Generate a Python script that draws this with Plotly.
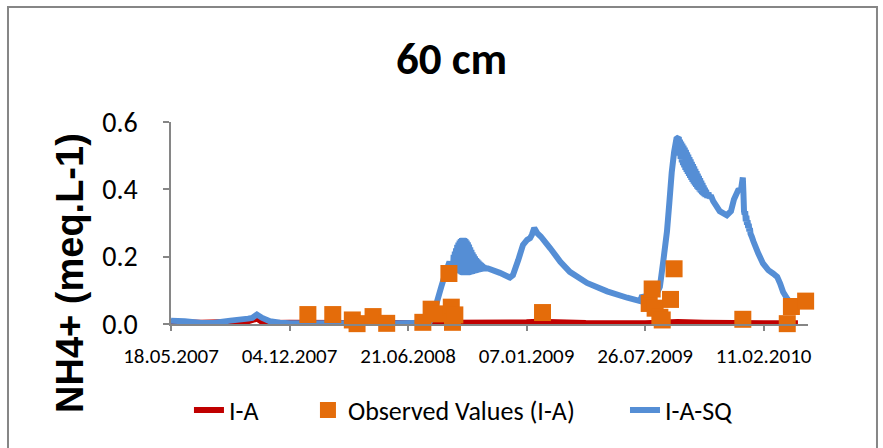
import plotly.graph_objects as go

# ---------------- data ----------------
# I-A simulation (red)
ia_dates = ["2007-05-18", "2007-07-07", "2007-08-26", "2007-09-25", "2007-10-10",
            "2007-10-17", "2007-11-04", "2007-12-04", "2008-03-13", "2008-06-21",
            "2008-08-30", "2009-01-07", "2009-01-27", "2009-04-17", "2009-07-26",
            "2009-09-19", "2009-11-03", "2010-02-11", "2010-04-10"]
ia_values = [0.006, 0.004, 0.006, 0.008, 0.016, 0.008, 0.003, 0.004, 0.003, 0.003,
             0.004, 0.005, 0.007, 0.003, 0.002, 0.006, 0.004, 0.002, 0.002]

# Observed values (I-A)
obs_dates = ["2008-01-04", "2008-02-15", "2008-03-19", "2008-03-27", "2008-04-23",
             "2008-05-16", "2008-07-16", "2008-07-30", "2008-08-08", "2008-08-29",
             "2008-09-02", "2008-09-04", "2008-09-08", "2009-02-03", "2009-08-02",
             "2009-08-07", "2009-08-12", "2009-08-20", "2009-08-24", "2009-09-07",
             "2009-09-13", "2010-01-07", "2010-03-23", "2010-03-30", "2010-04-23"]
obs_values = [0.028, 0.028, 0.012, 0.001, 0.022, 0.002, 0.005, 0.044, 0.030, 0.150,
              0.050, 0.005, 0.027, 0.034, 0.061, 0.104, 0.047, 0.020, 0.012, 0.073,
              0.164, 0.014, 0.001, 0.052, 0.068]

# I-A-SQ simulation (blue), daily fluctuations included
sq_dates = [
    "2007-05-18", "2007-06-10", "2007-07-09", "2007-07-31", "2007-08-26",
    "2007-09-25", "2007-10-02", "2007-10-10", "2007-10-19", "2007-11-01",
    "2007-11-18", "2007-12-05", "2008-03-01", "2008-06-01", "2008-07-27",
    "2008-08-03", "2008-08-16", "2008-08-23", "2008-08-30", "2008-09-02",
    "2008-09-05", "2008-09-06", "2008-09-07", "2008-09-08", "2008-09-09",
    "2008-09-10", "2008-09-11", "2008-09-12", "2008-09-13", "2008-09-14",
    "2008-09-15", "2008-09-16", "2008-09-17", "2008-09-18", "2008-09-19",
    "2008-09-20", "2008-09-21", "2008-09-22", "2008-09-23", "2008-09-24",
    "2008-09-25", "2008-09-26", "2008-09-27", "2008-09-28", "2008-09-29",
    "2008-09-30", "2008-10-01", "2008-10-02", "2008-10-03", "2008-10-04",
    "2008-10-05", "2008-10-06", "2008-10-07", "2008-10-08", "2008-10-09",
    "2008-10-10", "2008-10-11", "2008-10-12", "2008-10-13", "2008-10-14",
    "2008-10-15", "2008-10-16", "2008-10-17", "2008-10-18", "2008-10-19",
    "2008-10-20", "2008-10-21", "2008-10-22", "2008-10-23", "2008-10-24",
    "2008-10-25", "2008-10-26", "2008-10-27", "2008-10-28", "2008-10-29",
    "2008-11-03", "2008-11-23", "2008-12-10",
    "2008-12-15", "2008-12-24", "2009-01-01", "2009-01-08", "2009-01-13",
    "2009-01-16", "2009-01-20", "2009-01-25", "2009-01-31", "2009-02-16",
    "2009-03-05", "2009-03-21", "2009-04-19", "2009-05-23", "2009-06-26",
    "2009-07-18", "2009-07-21", "2009-07-26", "2009-08-03", "2009-08-15",
    "2009-08-20", "2009-08-26", "2009-09-01", "2009-09-05", "2009-09-09",
    "2009-09-13", "2009-09-17", "2009-09-21",
    "2009-09-22", "2009-09-23", "2009-09-24", "2009-09-25", "2009-09-26",
    "2009-09-27", "2009-09-28", "2009-09-29", "2009-09-30", "2009-10-01",
    "2009-10-02", "2009-10-03", "2009-10-04", "2009-10-05", "2009-10-06",
    "2009-10-07", "2009-10-08", "2009-10-09", "2009-10-10", "2009-10-11",
    "2009-10-12", "2009-10-13", "2009-10-14", "2009-10-15", "2009-10-16",
    "2009-10-17", "2009-10-18", "2009-10-19", "2009-10-20", "2009-10-21",
    "2009-10-22", "2009-10-23", "2009-10-24", "2009-10-25", "2009-10-26",
    "2009-10-27", "2009-10-28", "2009-10-29", "2009-10-30", "2009-10-31",
    "2009-11-01", "2009-11-02", "2009-11-03", "2009-11-04", "2009-11-05",
    "2009-11-06", "2009-11-08", "2009-11-10", "2009-11-12", "2009-11-14",
    "2009-11-18",
    "2009-11-29", "2009-12-11", "2009-12-18", "2009-12-23", "2009-12-30",
    "2010-01-04", "2010-01-07", "2010-01-08", "2010-01-09", "2010-01-10",
    "2010-01-11", "2010-01-12", "2010-01-13", "2010-01-14", "2010-01-15",
    "2010-01-16", "2010-01-17", "2010-01-18", "2010-01-19", "2010-01-20",
    "2010-01-22", "2010-01-25", "2010-02-02", "2010-02-10", "2010-02-19",
    "2010-02-27", "2010-03-06", "2010-03-11", "2010-03-16", "2010-03-23",
    "2010-03-29"]
sq_values = [
    0.010, 0.008, 0.003, 0.004, 0.010,
    0.016, 0.018, 0.028, 0.018, 0.008,
    0.004, 0.002, 0.002, 0.002, 0.004,
    0.030, 0.110, 0.150, 0.185, 0.165,
    0.165, 0.205, 0.160, 0.215, 0.158,
    0.225, 0.156, 0.235, 0.154, 0.242,
    0.152, 0.248, 0.150, 0.252, 0.148,
    0.255, 0.146, 0.256, 0.145, 0.255,
    0.145, 0.252, 0.145, 0.248, 0.145,
    0.243, 0.146, 0.236, 0.147, 0.228,
    0.148, 0.220, 0.149, 0.213, 0.150,
    0.207, 0.151, 0.201, 0.152, 0.196,
    0.153, 0.192, 0.154, 0.188, 0.155,
    0.184, 0.156, 0.181, 0.157, 0.178,
    0.158, 0.175, 0.160, 0.172, 0.165,
    0.165, 0.152, 0.138,
    0.145, 0.190, 0.235, 0.250, 0.255,
    0.265, 0.285, 0.270, 0.260, 0.225,
    0.185, 0.155, 0.122, 0.097, 0.078,
    0.068, 0.085, 0.075, 0.080, 0.092,
    0.110, 0.190, 0.275, 0.360, 0.450,
    0.510, 0.550, 0.555,
    0.500, 0.548, 0.490, 0.542, 0.480,
    0.536, 0.472, 0.530, 0.465, 0.524,
    0.458, 0.517, 0.452, 0.510, 0.446,
    0.503, 0.440, 0.496, 0.434, 0.489,
    0.428, 0.482, 0.422, 0.475, 0.417,
    0.468, 0.412, 0.461, 0.407, 0.454,
    0.402, 0.447, 0.398, 0.440, 0.394,
    0.433, 0.390, 0.426, 0.386, 0.419,
    0.383, 0.412, 0.380, 0.405, 0.377,
    0.398, 0.375, 0.390, 0.373, 0.382,
    0.365,
    0.335, 0.323, 0.335, 0.370, 0.397,
    0.400, 0.435, 0.390, 0.335, 0.325,
    0.335, 0.305, 0.322, 0.295, 0.308,
    0.285, 0.298, 0.275, 0.285, 0.268,
    0.260, 0.245, 0.210, 0.180, 0.160,
    0.150, 0.140, 0.120, 0.095, 0.075,
    0.060]

x_range = ["2007-05-18", "2010-04-27"]
tick_start = "2007-05-18"
tick_step_days = 200

# ---------------- styling ----------------
CAL = "Carlito, Calibri, Lato, sans-serif"
RED = "#C00000"
ORANGE = "#E46C0A"
BLUE = "#558ED5"
GREY = "#868686"

fig = go.Figure()

fig.add_trace(go.Scatter(
    x=ia_dates, y=ia_values, mode="lines", name="I-A",
    line=dict(color=RED, width=6, simplify=False), cliponaxis=False,
    legend="legend"))

fig.add_trace(go.Scatter(
    x=sq_dates, y=sq_values, mode="lines", name="I-A-SQ",
    line=dict(color=BLUE, width=6, simplify=False), cliponaxis=False,
    legend="legend3"))

fig.add_trace(go.Scatter(
    x=obs_dates, y=obs_values, mode="markers", name="Observed Values (I-A)",
    marker=dict(symbol="square", size=17, color=ORANGE, line=dict(width=0)),
    cliponaxis=False, legend="legend2"))

legend_common = dict(orientation="h", yanchor="middle", y=-0.4257, xanchor="left",
                     font=dict(family=CAL, size=26, color="#000000"),
                     bgcolor="rgba(0,0,0,0)", borderwidth=0)

fig.update_layout(
    width=883, height=448,
    margin=dict(l=171, r=75, t=122, b=124),
    paper_bgcolor="white", plot_bgcolor="white",
    showlegend=True,
    legend=dict(legend_common, x=0.0282),
    legend2=dict(legend_common, x=0.2150),
    legend3=dict(legend_common, x=0.7127),
    xaxis=dict(
        type="date", range=x_range,
        tick0=tick_start, dtick=tick_step_days * 86400000,
        tickformat="%d.%m.%Y",
        showgrid=False, zeroline=False,
        showline=True, linecolor=GREY, linewidth=1.5,
        ticks="outside", ticklen=5, tickcolor=GREY, tickwidth=1.5,
        tickfont=dict(family=CAL, size=21, color="#000000"),
        ticklabelstandoff=7,
    ),
    yaxis=dict(
        range=[0, 0.6], dtick=0.2, tickformat=".1f",
        showgrid=False, zeroline=False,
        showline=True, linecolor=GREY, linewidth=1.5,
        ticks="outside", ticklen=6, tickcolor=GREY, tickwidth=1.5,
        tickfont=dict(family=CAL, size=28, color="#000000"),
        ticklabelstandoff=20,
    ),
    annotations=[
        dict(text="<b>60 cm</b>", xref="paper", yref="paper", x=0.4396, y=1.314,
             xanchor="center", yanchor="middle", showarrow=False,
             font=dict(family=CAL, size=45, color="#000000")),
        dict(text="<b>NH4+ (meq.L-1)</b>", xref="paper", yref="paper",
             x=-0.1586, y=0.2525, textangle=-90,
             xanchor="center", yanchor="middle", showarrow=False,
             font=dict(family="Liberation Sans, Arial, sans-serif", size=38,
                       color="#000000")),
    ],
    shapes=[
        dict(type="rect", xref="paper", yref="paper",
             x0=-0.2559, x1=1.1083, y0=-0.75, y1=1.5693,
             line=dict(color=GREY, width=2), fillcolor="rgba(0,0,0,0)",
             layer="below"),
    ],
)

fig.write_html("out.html")
